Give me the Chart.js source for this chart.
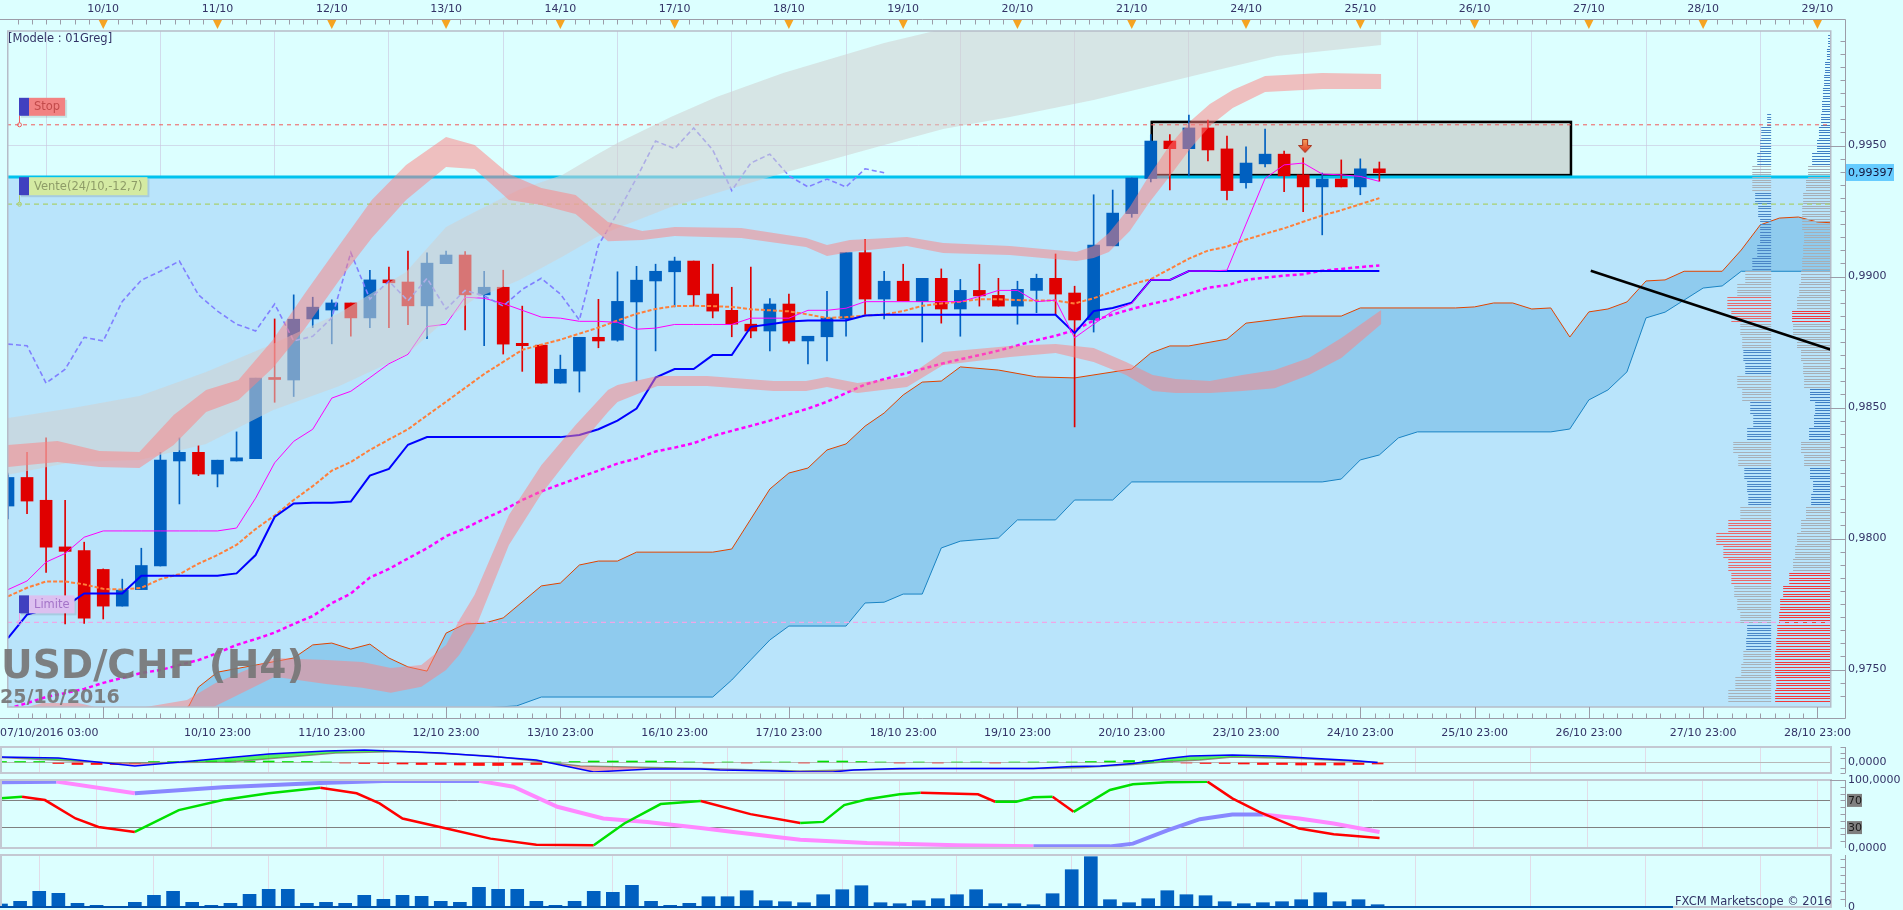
<!DOCTYPE html>
<html lang="fr">
<head>
<meta charset="UTF-8">
<title>USD/CHF (H4)</title>
<script src="https://cdn.jsdelivr.net/npm/chart.js"></script>
<style>
  body { margin: 0; background: #dcffff; }
  #wrap { position: relative; width: 1903px; height: 910px; overflow: hidden; background: #dcffff; }
  #wrap canvas { position: absolute; left: 0; }
</style>
</head>
<body>
<div id="wrap">
  <canvas id="mainChart" width="1903" height="752" style="top:0"></canvas>
  <canvas id="macdChart" width="1903" height="45" style="top:735px"></canvas>
  <canvas id="stoChart" width="1903" height="92" style="top:768px"></canvas>
  <canvas id="volChart" width="1903" height="67" style="top:843px"></canvas>
</div>
<script>
// H4 candles, 07/10/2016 03:00 -> 25/10/2016
const opens = [0.98124, 0.98233, 0.98146, 0.97968, 0.97954, 0.97882, 0.97742, 0.97805, 0.97895, 0.98296,
  0.98329, 0.98246, 0.98296, 0.98305, 0.98613, 0.98605, 0.98838, 0.98872, 0.98899, 0.98842,
  0.98987, 0.98979, 0.98888, 0.99049, 0.99082, 0.9893, 0.98959, 0.98745, 0.98738, 0.98593,
  0.98639, 0.98768, 0.98757, 0.98903, 0.98983, 0.99018, 0.99059, 0.98933, 0.98871, 0.98818,
  0.98792, 0.98895, 0.98754, 0.9877, 0.98838, 0.99091, 0.98914, 0.98982, 0.98904, 0.98993,
  0.98876, 0.98947, 0.98928, 0.98887, 0.98947, 0.98993, 0.98937, 0.98834, 0.99117, 0.9924,
  0.99374, 0.99517, 0.99488, 0.99567, 0.99487, 0.99358, 0.9943, 0.99467, 0.99388, 0.99342,
  0.99372, 0.99342, 0.99411];
const highs = [0.9825, 0.98329, 0.98384, 0.98146, 0.97986, 0.97884, 0.97845, 0.97963, 0.98329, 0.98384,
  0.98355, 0.98299, 0.98407, 0.98612, 0.98838, 0.9893, 0.98921, 0.98911, 0.98899, 0.99024,
  0.99036, 0.99097, 0.9909, 0.99097, 0.99095, 0.9902, 0.99024, 0.98887, 0.98738, 0.987,
  0.98768, 0.98913, 0.99018, 0.99039, 0.99047, 0.99074, 0.99059, 0.99047, 0.98959, 0.99036,
  0.98916, 0.98933, 0.98772, 0.98943, 0.99091, 0.99142, 0.9902, 0.99047, 0.98993, 0.99029,
  0.98989, 0.99047, 0.98993, 0.98982, 0.99009, 0.99086, 0.98963, 0.99312, 0.9933, 0.99376,
  0.99542, 0.99542, 0.99616, 0.99597, 0.99536, 0.99495, 0.99563, 0.99479, 0.99453, 0.99395,
  0.99445, 0.99449, 0.99437];
const lows = [0.98075, 0.98095, 0.97871, 0.97674, 0.97676, 0.97693, 0.97742, 0.97805, 0.97895, 0.98132,
  0.9824, 0.98197, 0.98296, 0.98305, 0.9852, 0.98542, 0.98805, 0.98743, 0.98772, 0.98805,
  0.98805, 0.98816, 0.98763, 0.99049, 0.98796, 0.98736, 0.98704, 0.98638, 0.98593, 0.98593,
  0.98559, 0.98728, 0.98753, 0.98601, 0.98716, 0.98884, 0.98887, 0.98842, 0.9877, 0.98766,
  0.98716, 0.98746, 0.98666, 0.98678, 0.98772, 0.98855, 0.98838, 0.98907, 0.9875, 0.98822,
  0.98772, 0.98887, 0.98887, 0.98818, 0.98862, 0.98855, 0.98426, 0.98788, 0.99117, 0.99226,
  0.99361, 0.9933, 0.99384, 0.99441, 0.99292, 0.99337, 0.99418, 0.99324, 0.99247, 0.99159,
  0.99342, 0.99312, 0.99364];
const closes = [0.98233, 0.98143, 0.97967, 0.97951, 0.97696, 0.97742, 0.97803, 0.97897, 0.98299, 0.98329,
  0.98246, 0.98299, 0.98308, 0.98612, 0.98607, 0.98837, 0.98883, 0.98899, 0.98842, 0.98987,
  0.98976, 0.98888, 0.99051, 0.99082, 0.9893, 0.98959, 0.98742, 0.98736, 0.98593, 0.98646,
  0.98768, 0.98754, 0.98905, 0.98986, 0.9902, 0.99059, 0.9893, 0.98868, 0.98818, 0.98792,
  0.98895, 0.98754, 0.98772, 0.98842, 0.99091, 0.98914, 0.98982, 0.98907, 0.98993, 0.98876,
  0.98947, 0.98926, 0.98887, 0.98951, 0.98993, 0.98933, 0.98834, 0.9912, 0.99242, 0.99376,
  0.99517, 0.99488, 0.99567, 0.99483, 0.99328, 0.99433, 0.99467, 0.99384, 0.99342, 0.99372,
  0.99342, 0.99411, 0.99396];

// indicators on the price chart (one value per candle)
const tenkan = [0.97805, 0.97838, 0.9791, 0.97943, 0.98005, 0.98029, 0.98029, 0.98029, 0.98029, 0.98029,
  0.98029, 0.98029, 0.9804, 0.98154, 0.98289, 0.98371, 0.98417, 0.98536, 0.98562, 0.98614,
  0.98667, 0.98703, 0.98809, 0.98818, 0.98921, 0.98917, 0.98897, 0.98871, 0.98845, 0.98841,
  0.98829, 0.98829, 0.98825, 0.98799, 0.98803, 0.98817, 0.98817, 0.98817, 0.98817, 0.98841,
  0.98841, 0.98841, 0.98871, 0.98871, 0.98879, 0.98904, 0.98904, 0.98904, 0.98904, 0.98904,
  0.98904, 0.98924, 0.98947, 0.98947, 0.98904, 0.9891, 0.98766, 0.98818, 0.98868, 0.98897,
  0.98987, 0.98987, 0.99021, 0.99021, 0.99024, 0.992, 0.99374, 0.99426, 0.99433, 0.99391,
  0.99388, 0.99382, 0.99363];
const kijun = [0.9762, 0.9771, 0.9773, 0.9774, 0.9779, 0.9779, 0.9779, 0.97858, 0.97858, 0.97858,
  0.97858, 0.97858, 0.97867, 0.97937, 0.98082, 0.98134, 0.98137, 0.98137, 0.98141, 0.9824,
  0.98266, 0.98358, 0.98387, 0.98387, 0.98387, 0.98387, 0.98387, 0.98387, 0.98387, 0.98387,
  0.98395, 0.98417, 0.9845, 0.98496, 0.98614, 0.98647, 0.98647, 0.987, 0.987, 0.98808,
  0.98818, 0.98828, 0.98832, 0.98832, 0.98832, 0.98851, 0.98854, 0.98854, 0.98854, 0.98854,
  0.98854, 0.98854, 0.98854, 0.98854, 0.98854, 0.98854, 0.98784, 0.98868, 0.9888, 0.989,
  0.98987, 0.98987, 0.99021, 0.99021, 0.99021, 0.99021, 0.99021, 0.99021, 0.99021, 0.99021,
  0.99021, 0.99021, 0.99021];
const emaFast = [0.97779, 0.97812, 0.97836, 0.97836, 0.97825, 0.97808, 0.97805, 0.97812, 0.97845, 0.97864,
  0.97904, 0.97937, 0.97976, 0.98036, 0.98088, 0.98147, 0.982, 0.98259, 0.98292, 0.98338,
  0.98378, 0.98417, 0.9847, 0.98522, 0.98575, 0.98628, 0.98674, 0.9872, 0.9874, 0.98759,
  0.98782, 0.98805, 0.98832, 0.98858, 0.98876, 0.98887, 0.98888, 0.98887, 0.98884, 0.98875,
  0.98871, 0.98867, 0.98855, 0.98842, 0.98845, 0.98851, 0.98855, 0.98868, 0.98888, 0.98897,
  0.98904, 0.98913, 0.98913, 0.9891, 0.98908, 0.98908, 0.98897, 0.98917, 0.98943, 0.9897,
  0.9899, 0.99029, 0.99068, 0.99099, 0.99114, 0.99141, 0.99163, 0.99184, 0.99209, 0.99233,
  0.99253, 0.99276, 0.99299];
const maSlow = [0.9735, 0.97372, 0.97395, 0.9741, 0.97426, 0.97449, 0.97468, 0.97487, 0.97498, 0.97517,
  0.97536, 0.97563, 0.97594, 0.97616, 0.97641, 0.97674, 0.97704, 0.97753, 0.9779, 0.97851,
  0.97884, 0.97924, 0.97963, 0.98009, 0.98039, 0.98075, 0.98108, 0.98147, 0.9818, 0.98207,
  0.98233, 0.98259, 0.98286, 0.98305, 0.98332, 0.98347, 0.98364, 0.98391, 0.98411, 0.9843,
  0.9845, 0.98474, 0.98496, 0.98522, 0.98555, 0.98588, 0.98608, 0.98628, 0.98647, 0.98667,
  0.98684, 0.987, 0.98717, 0.98737, 0.98757, 0.98774, 0.98795, 0.98832, 0.98855, 0.98876,
  0.98895, 0.98911, 0.98934, 0.98957, 0.98967, 0.98987, 0.98996, 0.99003, 0.99009, 0.99022,
  0.99029, 0.99036, 0.99042];
const chikou = [0.98742, 0.98736, 0.98593, 0.98646, 0.98768, 0.98754, 0.98905, 0.98986, 0.9902, 0.99059,
  0.9893, 0.98868, 0.98818, 0.98792, 0.98895, 0.98754, 0.98772, 0.98842, 0.99091, 0.98914,
  0.98982, 0.98907, 0.98993, 0.98876, 0.98947, 0.98926, 0.98887, 0.98951, 0.98993, 0.98933,
  0.98834, 0.9912, 0.99242, 0.99376, 0.99517, 0.99488, 0.99567, 0.99483, 0.99328, 0.99433,
  0.99467, 0.99384, 0.99342, 0.99372, 0.99342, 0.99411, 0.99396];

// ichimoku cloud, shifted forward
const senkouAX = [8, 9.5, 10, 11, 15, 16, 17, 18, 19, 20, 21, 22, 23, 24, 25, 26, 28, 29, 30, 31,
  32, 33, 37, 38, 40, 41, 42, 43, 44, 45, 46, 47, 48, 49, 50, 52, 54, 56, 59, 60,
  61, 62, 64, 65, 68, 70, 71, 76, 77, 78, 79, 80, 81, 82, 83, 84, 85, 86, 87, 88,
  90, 91, 92, 93, 94, 95, 96];
const senkouA = [0.9728, 0.97361, 0.97433, 0.9749, 0.97544, 0.97594, 0.97601, 0.97578, 0.97597, 0.97544,
  0.9751, 0.97494, 0.97639, 0.97674, 0.97677, 0.97697, 0.97819, 0.9783, 0.97899, 0.97914,
  0.97914, 0.97948, 0.97948, 0.9796, 0.98189, 0.9825, 0.98269, 0.98338, 0.98361, 0.98429,
  0.98479, 0.98548, 0.98597, 0.98601, 0.98655, 0.98643, 0.98617, 0.98613, 0.98647, 0.98708,
  0.98735, 0.98735, 0.98761, 0.98822, 0.98849, 0.98849, 0.9888, 0.9888, 0.98884, 0.98899,
  0.98899, 0.98876, 0.9888, 0.98769, 0.98865, 0.98876, 0.98903, 0.98983, 0.98987, 0.9902,
  0.9902, 0.99101, 0.99197, 0.99223, 0.99227, 0.99208, 0.99204];
const senkouBX = [0, 26.7, 28, 37, 38, 39, 40, 41, 44, 45, 46, 47, 48, 49, 50, 52, 53, 55, 56, 58,
  59, 69, 70, 71, 72, 73, 74, 81, 82, 83, 84, 85, 86, 87, 89, 90, 91, 96];
const senkouB = [0.9725, 0.97361, 0.97395, 0.97395, 0.9746, 0.97537, 0.97613, 0.97666, 0.97666, 0.97754,
  0.97757, 0.97788, 0.97788, 0.97964, 0.9799, 0.98002, 0.98071, 0.98071, 0.98147, 0.98147,
  0.98216, 0.98216, 0.98227, 0.983, 0.98319, 0.98384, 0.98407, 0.98407, 0.98418, 0.98529,
  0.98567, 0.98636, 0.98842, 0.98864, 0.98956, 0.98964, 0.9902, 0.9902];

// wide translucent envelopes (upper / lower edge of each band)
const upBandX = [0, 2.6, 4.8, 6.9, 8.7, 10.4, 12.1, 13.9, 15.6, 17.4, 19.1, 20.9, 23.0, 24.5, 26.3, 28.0, 29.8, 31.5, 33.3, 35.0,
  38.5, 41.9, 43.0, 44.2, 47.2, 49.1, 52.6, 56.1, 57.0, 57.8, 58.9, 59.9, 61.0, 62.1, 63.1, 64.3, 66.0, 69.0, 72.1];
const upBandTop = [0.98357, 0.98372, 0.98334, 0.9833, 0.98471, 0.98567, 0.98605, 0.98758, 0.98937, 0.9912,
  0.99292, 0.99426, 0.99532, 0.99502, 0.99391, 0.99338, 0.99311, 0.99208, 0.99174, 0.99189,
  0.99185, 0.99147, 0.9912, 0.99139, 0.99151, 0.99128, 0.99116, 0.99094, 0.99116, 0.99166,
  0.99265, 0.99384, 0.99502, 0.99594, 0.99658, 0.99712, 0.99765, 0.99777, 0.99773];
const upBandBot = [0.98273, 0.98292, 0.98273, 0.98269, 0.98357, 0.98483, 0.98529, 0.98651, 0.98803, 0.98987,
  0.99147, 0.99292, 0.99418, 0.9941, 0.99292, 0.99273, 0.99239, 0.99135, 0.99139, 0.99155,
  0.99147, 0.99113, 0.99078, 0.99094, 0.99116, 0.9909, 0.99082, 0.99059, 0.99071, 0.99094,
  0.99174, 0.99281, 0.99384, 0.9949, 0.99574, 0.99643, 0.99704, 0.99716, 0.99716];
const loBandX = [0, 1.8, 3.7, 5.7, 9.4, 10.9, 14.0, 16.7, 18.6, 20.1, 21.7, 23.0, 23.7, 24.5, 26.3, 28.0, 29.8, 31.5, 32.0, 34.1,
  36.7, 40.2, 41.9, 43.0, 44.6, 47.2, 49.1, 52.6, 55.0, 57.0, 58.7, 60.1, 61.3, 63.1, 64.8, 66.5, 68.3, 70.0, 72.1];
const loBandTop = [0.97338, 0.97372, 0.97372, 0.97338, 0.97384, 0.97449, 0.97544, 0.97536, 0.97529, 0.97506,
  0.97517, 0.97594, 0.97689, 0.97785, 0.9809, 0.9828, 0.98433, 0.98567, 0.98586, 0.9862,
  0.9862, 0.98601, 0.98601, 0.98616, 0.98594, 0.98616, 0.98712, 0.98735, 0.98742, 0.98727,
  0.98674, 0.98624, 0.98609, 0.98601, 0.98624, 0.98643, 0.98689, 0.98765, 0.98872];
const loBandBot = [0.97288, 0.97323, 0.97323, 0.97277, 0.97269, 0.97361, 0.97472, 0.97445, 0.9743, 0.97411,
  0.97434, 0.97498, 0.97556, 0.97651, 0.97975, 0.9817, 0.98338, 0.98483, 0.98521, 0.98582,
  0.98582, 0.98563, 0.98563, 0.98578, 0.98555, 0.98578, 0.98662, 0.98693, 0.98708, 0.98674,
  0.98624, 0.98563, 0.98555, 0.98555, 0.98563, 0.98574, 0.98624, 0.98689, 0.98819];
const greyX = [0, 3.4, 6.9, 10.4, 13.9, 17.4, 20.9, 23.0, 24.5, 26.8, 29.1, 30.9, 32.0, 34.8, 37.2, 40.7, 46.0, 49.1,
  52.6, 57.0, 63.5, 66.6, 72.1];
const greyTop = [0.9846, 0.98498, 0.98544, 0.98636, 0.98742, 0.98861, 0.99017, 0.99189, 0.99246, 0.9933,
  0.99387, 0.99465, 0.9951, 0.99609, 0.99685, 0.99777, 0.99891, 0.99945, 0.9999, 1.0003, 1.0008, 1.001, 1.0012];
const greyBot = [0.98243, 0.98292, 0.983, 0.98361, 0.9849, 0.98582, 0.987, 0.98835, 0.98915, 0.98985,
  0.99075, 0.99151, 0.99185, 0.99265, 0.99319, 0.99395, 0.99502, 0.99563, 0.99609, 0.99674, 0.99788, 0.99842, 0.99884];

// order levels and drawings
const stopLevel = 0.99579;
const entryLevel = 0.99276;
const limitLevel = 0.9768;
const priceLine = 0.9938;
const lastQuote = 0.99397;
const boxX = [60.05, 82.06];
const boxY = [0.9959, 0.99387];
const trendX = [83.1, 95.7];
const trendY = [0.99022, 0.98721];
const signalX = [68.1];
const signalY = [0.99498];

// volume profiles (length in candle widths per price level; b/g/r = side)
const profileLevels = [0.9990, 0.9985, 0.9980, 0.9975, 0.9970, 0.9965, 0.9960, 0.9955, 0.9950, 0.9945,
  0.9940, 0.9935, 0.9930, 0.9925, 0.9920, 0.9915, 0.9910, 0.9905, 0.9900, 0.9895,
  0.9890, 0.9885, 0.9880, 0.9875, 0.9870, 0.9865, 0.9860, 0.9855, 0.9850, 0.9845,
  0.9840, 0.9835, 0.9830, 0.9825, 0.9820, 0.9815, 0.9810, 0.9805, 0.9800, 0.9795,
  0.9790, 0.9785, 0.9780, 0.9775, 0.9770, 0.9765, 0.9760, 0.9755, 0.9750, 0.9745, 0.9740];
const profile1 = [0, 0, 0, 0, 0, 0, 0.21, 0.52, 0.58, 0.73,
  0.99, 0.99, 0.84, 0.68, 0.58, 0.58, 0.73, 0.99, 1.36, 1.78,
  2.30, 2.09, 1.62, 1.52, 1.46, 1.36, 1.78, 1.52, 1.10, 0.94,
  1.26, 1.99, 1.73, 1.41, 1.26, 1.20, 1.62, 2.25, 2.88, 2.51,
  2.25, 2.09, 1.94, 1.78, 1.62, 1.26, 1.31, 1.46, 1.57, 1.88, 2.25];
const profile1Side = '------bbbbggbbbbbbggrrggbbggbbbggbbbgrrrrrgggbbgggg';
const profile2 = [0.10, 0.16, 0.26, 0.31, 0.37, 0.42, 0.47, 0.58, 0.68, 0.94,
  1.15, 1.26, 1.41, 1.46, 1.46, 1.36, 1.41, 1.46, 1.52, 1.62,
  1.73, 1.99, 1.94, 1.73, 1.52, 1.41, 1.36, 1.05, 0.78, 0.84,
  1.10, 1.52, 1.36, 1.05, 0.89, 0.99, 1.26, 1.52, 1.73, 1.83,
  1.94, 2.14, 2.46, 2.62, 2.67, 2.77, 2.82, 2.88, 2.88, 2.82, 2.88];
const profile2Side = 'bbbbbbbbbbgggggggggggrgggggbbbbggbbbgggggrrrrrrrrrr';

// MACD panel
const macdX = [0, 3, 7, 10, 14, 17, 19, 23, 26, 28, 31, 34, 36.6, 37.6, 40.6, 41.6, 43.5, 44.6, 47, 51,
  54, 56, 57.5, 59.2, 61, 62.2, 64.4, 66.5, 68.8, 70.7, 72];
const macdLine = [0.0011, 0.0009, -0.0007, 0.0003, 0.0017, 0.0023, 0.0025, 0.0019, 0.0011, 0.0005,
  -0.0019, -0.0013, -0.0013, -0.0015, -0.0017, -0.0019, -0.0019, -0.0015, -0.0012, -0.0012,
  -0.0012, -0.0008, -0.0007, -0.0002, 0.0008, 0.0013, 0.0015, 0.0013, 0.0008, 0.0004, 0.0];
const macdSigX = [0, 6, 12, 17.5, 21, 25.6, 30.3, 36.6, 41.8, 48.7, 54.5, 56.6, 59.2, 61.1, 62.7, 64.4, 67.9, 72];
const macdSignal = [0.0010, -0.0001, 0.0001, 0.0019, 0.0022, 0.0013, -0.0007, -0.0012, -0.0017, -0.0012,
  -0.0012, -0.0010, -0.0004, 0.0002, 0.0005, 0.0011, 0.0008, 0.0];
const macdHist = [0.0002, 0.0002, 0.0002, -0.0002, -0.0004, -0.0004, -0.0004, -0.0002, 0.0002, 0.0002,
  0.0002, 0.0003, 0.0003, 0.0003, 0.0003, 0.0002, 0.0002, 0.0001, -0.0001, -0.0002,
  -0.0002, -0.0003, -0.0004, -0.0004, -0.0005, -0.0006, -0.0006, -0.0005, -0.0004, 0.0001,
  0.0002, 0.0003, 0.0003, 0.0003, 0.0003, 0.0002, 0.0001, -0.0001, 0.0001, -0.0001,
  0.0001, 0.0001, -0.0001, 0.0003, 0.0003, 0.0002, 0.0001, -0.0001, 0.0001, -0.0001,
  0.0001, 0.0001, -0.0001, 0.0001, 0.0001, 0.0001, 0.0001, 0.0002, 0.0003, 0.0004,
  0.0004, 0.0003, -0.0001, -0.0002, -0.0002, -0.0003, -0.0004, -0.0004, -0.0005, -0.0005,
  -0.0005, -0.0004, -0.0003];

// oscillator panel (0-100)
const slowX = [0, 2.9, 7, 11.6, 16.3, 20, 25, 26.8, 29.1, 31.5, 33.8, 36.6, 38.3, 41.8, 45.3, 50, 54, 58, 59.2, 61,
  62.7, 64.4, 66, 67.9, 69.7, 72.1];
const slowVal = [96.7, 97.6, 80.4, 89.3, 95.3, 98.7, 98.7, 90.2, 60.6, 43.4, 38.4, 29.5, 23.6, 12.3, 7.3, 3.9, 2.4, 2.4, 6.4, 26,
  42.4, 49.3, 49.3, 43.4, 36, 23.6];
const fastX = [0, 1.1, 2.3, 3.9, 5.1, 7, 9.3, 11.6, 14, 16.7, 18.6, 19.8, 21, 23.3, 25.6, 28, 31, 32.6, 34.5, 36.6,
  39.2, 41.8, 43, 44.1, 45.3, 47, 48.1, 51.1, 52, 53.1, 54, 55, 56.1, 58, 59.2, 61, 63.1, 64.4, 65.8, 67.9,
  69.7, 72.1];
const fastVal = [73, 75.4, 70.5, 43.4, 31, 23.6, 55.7, 70.5, 80.4, 88.7, 80.4, 65.6, 43.4, 28.6, 13.8, 4.9, 3.9, 36, 64.6, 69,
  49.8, 36.9, 38.4, 63.1, 71.6, 79, 81.3, 79, 68, 68, 74.5, 75.4, 53.2, 85.3, 93.8, 96.7, 97.6, 73, 53.2, 28.6,
  20.1, 14.7];

// tick volume
const volumes = [750, 1425, 3925, 3425, 925, 425, 175, 1175, 2925, 3925,
  1175, 425, 925, 3175, 4425, 4425, 925, 1175, 925, 2925,
  1925, 2925, 2675, 1425, 1175, 4925, 4425, 4425, 1425, 425,
  1425, 3925, 3675, 5425, 1425, 425, 925, 2575, 2575, 4075,
  1575, 1325, 1075, 3075, 4325, 5325, 1075, 825, 1575, 2075,
  3075, 4325, 825, 825, 575, 3325, 9325, 12575, 1825, 1075,
  2075, 4075, 3075, 2825, 1325, 825, 1075, 1325, 1825, 3575,
  1325, 1825, 575];

// time axis
const dayTicks = [5, 11, 17, 23, 29, 35, 41, 47, 53, 59, 65, 71, 77, 83, 89, 95];
const topLabels = ['10/10', '11/10', '12/10', '13/10', '14/10', '17/10', '18/10', '19/10', '20/10', '21/10',
  '24/10', '25/10', '26/10', '27/10', '28/10', '29/10'];
const bottomTicks = [0, 11, 17, 23, 29, 35, 41, 47, 53, 59, 65, 71, 77, 83, 89, 95];
const bottomLabels = ['07/10/2016 03:00', '10/10 23:00', '11/10 23:00', '12/10 23:00', '13/10 23:00', '16/10 23:00',
  '17/10 23:00', '18/10 23:00', '19/10 23:00', '20/10 23:00', '23/10 23:00', '24/10 23:00', '25/10 23:00',
  '26/10 23:00', '27/10 23:00', '28/10 23:00'];
const priceTicks = [0.975, 0.980, 0.985, 0.990, 0.995];

const FONT = 'DejaVu Sans';
const AXIS_TXT = '#333366';
const X_MIN = -0.052, X_MAX = 95.66;
const Y_MIN = 0.97357, Y_MAX = 0.99937;

const idx = closes.map((_, i) => i);
const pts = (xs, ys) => ys.map((v, k) => ({ x: xs[k], y: v }));
const flat = v => [{ x: X_MIN, y: v }, { x: X_MAX, y: v }];
const fmt4 = v => v.toFixed(4).replace('.', ',');

function line(data, color, width, extra) {
  return Object.assign({ type: 'line', data: data, borderColor: color, borderWidth: width,
    pointRadius: 0, fill: false, tension: 0 }, extra || {});
}
function band(xs, top, bottom, color, order) {
  return [
    line(pts(xs, top), 'rgba(0,0,0,0)', 0, { fill: '+1', backgroundColor: color, order: order }),
    line(pts(xs, bottom), 'rgba(0,0,0,0)', 0, { order: order - 1 })
  ];
}
function xScale(gridColor) {
  return {
    type: 'linear', min: X_MIN, max: X_MAX, offset: false, z: 1,
    afterBuildTicks: s => { s.ticks = dayTicks.map(v => ({ value: v })); },
    afterFit: s => { s.height = 0; s.paddingLeft = 0; s.paddingRight = 0; },
    ticks: { display: false },
    grid: { color: gridColor, drawTicks: false },
    border: { display: false }
  };
}
function yFit(s) { s.width = 73; s.paddingTop = 0; s.paddingBottom = 0; }

// signal arrow used as point style
const arrowImg = document.createElement('canvas');
arrowImg.width = 14; arrowImg.height = 14;
(function () {
  const c = arrowImg.getContext('2d');
  const g = c.createLinearGradient(0, 0, 0, 14);
  g.addColorStop(0, '#f8a860'); g.addColorStop(1, '#d82a18');
  c.fillStyle = g; c.strokeStyle = '#a83018'; c.lineWidth = 1;
  c.beginPath();
  c.moveTo(4.5, 0.5); c.lineTo(9.5, 0.5); c.lineTo(9.5, 6.5); c.lineTo(13.5, 6.5);
  c.lineTo(7, 13.5); c.lineTo(0.5, 6.5); c.lineTo(4.5, 6.5); c.closePath();
  c.fill(); c.stroke();
})();

const candleColor = idx.map(i => closes[i] >= opens[i] ? '#0060c0' : '#e00000');

function drawProfile(chart, vols, sides, rightIdx, palette) {
  const { ctx, scales: { x, y } } = chart;
  const xr = x.getPixelForValue(rightIdx);
  const unit = x.getPixelForValue(1) - x.getPixelForValue(0);
  ctx.lineWidth = 1;
  profileLevels.forEach((lv, k) => {
    if (!vols[k]) return;
    ctx.strokeStyle = palette[sides[k]];
    ctx.beginPath();
    for (let s = -2; s <= 2; s++) {
      const py = Math.round(y.getPixelForValue(lv + s * 0.0001)) + 0.5;
      ctx.moveTo(xr - vols[k] * unit, py); ctx.lineTo(xr, py);
    }
    ctx.stroke();
  });
}

function tag(ctx, yLine, text, bg, fg, lineColor) {
  ctx.font = '11.5px ' + FONT;
  const w = ctx.measureText(text).width + 10;
  const top = yLine - 27, h = 18;
  ctx.fillStyle = 'rgba(0,0,0,0.10)'; ctx.fillRect(21, top + 2, 10 + w, h);
  ctx.fillStyle = '#4040c0'; ctx.fillRect(19, top, 10, h);
  ctx.fillStyle = bg; ctx.fillRect(29, top, w, h);
  ctx.fillStyle = fg; ctx.textAlign = 'left'; ctx.textBaseline = 'middle';
  ctx.fillText(text, 34, top + h / 2 + 0.5);
  ctx.strokeStyle = lineColor; ctx.lineWidth = 1;
  ctx.beginPath(); ctx.moveTo(19.5, top + h); ctx.lineTo(19.5, yLine - 2); ctx.stroke();
  ctx.beginPath(); ctx.arc(19.5, yLine, 2, 0, Math.PI * 2); ctx.stroke();
}

const mainDeco = {
  id: 'mainDeco',
  beforeDraw(chart) {
    const { ctx, width, height } = chart;
    ctx.save(); ctx.fillStyle = '#dcffff'; ctx.fillRect(0, 0, width, height); ctx.restore();
  },
  beforeDatasetsDraw(chart) {
    const { ctx, scales: { x, y } } = chart;
    const x0 = x.getPixelForValue(boxX[0]), x1 = x.getPixelForValue(boxX[1]);
    const y0 = y.getPixelForValue(boxY[0]), y1 = y.getPixelForValue(boxY[1]);
    ctx.save();
    ctx.fillStyle = '#cddcda'; ctx.fillRect(x0, y0, x1 - x0, y1 - y0);
    ctx.lineWidth = 2.5; ctx.strokeStyle = '#000'; ctx.strokeRect(x0, y0, x1 - x0, y1 - y0);
    ctx.restore();
  },
  afterDatasetDraw(chart, args) {
    if (chart.data.datasets[args.index].label !== 'senkouB') return;
    const { ctx, chartArea: a } = chart;
    ctx.save();
    ctx.beginPath(); ctx.rect(a.left, a.top, a.right - a.left, a.bottom - a.top); ctx.clip();
    drawProfile(chart, profile1, profile1Side, 92.57, { b: '#4a86c6', g: '#a8b0b8', r: '#e86a6a' });
    drawProfile(chart, profile2, profile2Side, X_MAX, { b: '#3f7fc4', g: '#a6aeb6', r: '#f23a3a' });
    ctx.restore();
  },
  afterDraw(chart) {
    const { ctx, chartArea: a, scales: { x, y } } = chart;
    const px = v => Math.round(x.getPixelForValue(v)) + 0.5;
    ctx.save();
    // plot frame
    ctx.strokeStyle = '#b6bcc8'; ctx.lineWidth = 1.5;
    ctx.strokeRect(a.left + 0.75, a.top, a.right - a.left, a.bottom - a.top);
    // axis lines and ticks
    ctx.strokeStyle = '#9c9ca8'; ctx.lineWidth = 1;
    ctx.beginPath();
    ctx.moveTo(0, 19.5); ctx.lineTo(1845.5, 19.5);
    ctx.moveTo(1845.5, 19.5); ctx.lineTo(1845.5, 718.5);
    ctx.moveTo(0, 718.5); ctx.lineTo(1845.5, 718.5);
    for (let t = 0.5; t <= X_MAX; t += 0.75) {
      const p = px(t);
      ctx.moveTo(p, 19.5); ctx.lineTo(p, 24.5);
      ctx.moveTo(p, 718.5); ctx.lineTo(p, 713.5);
    }
    dayTicks.forEach(d => { const p = px(d); ctx.moveTo(p, 718.5); ctx.lineTo(p, a.bottom); });
    for (let k = 0; k <= 52; k++) {
      const py = Math.round(y.getPixelForValue(0.974 + k * 0.0005)) + 0.5;
      if (py < a.top || py > a.bottom) continue;
      ctx.moveTo((k - 2) % 10 === 0 ? a.right : 1840.5, py); ctx.lineTo(1845.5, py);
    }
    ctx.stroke();
    // day markers
    ctx.fillStyle = '#f5a422';
    dayTicks.forEach(d => {
      const p = x.getPixelForValue(d);
      ctx.beginPath(); ctx.moveTo(p - 4.5, 20); ctx.lineTo(p + 4.5, 20); ctx.lineTo(p, 29); ctx.closePath(); ctx.fill();
    });
    // time labels
    ctx.font = '11px ' + FONT; ctx.fillStyle = AXIS_TXT; ctx.textBaseline = 'middle'; ctx.textAlign = 'center';
    dayTicks.forEach((d, k) => ctx.fillText(topLabels[k], x.getPixelForValue(d), 9));
    bottomTicks.forEach((d, k) => {
      ctx.textAlign = k === 0 ? 'left' : 'center';
      ctx.fillText(bottomLabels[k], k === 0 ? 0 : x.getPixelForValue(d), 733);
    });
    // last quote
    const yq = y.getPixelForValue(lastQuote);
    ctx.fillStyle = '#66ccff'; ctx.fillRect(1846, yq - 8.5, 48, 17);
    ctx.fillStyle = '#14143c'; ctx.textAlign = 'left';
    ctx.fillText(lastQuote.toFixed(5).replace('.', ','), 1848, yq + 0.5);
    // order tags
    tag(ctx, y.getPixelForValue(stopLevel), 'Stop', '#f28282', '#c24a4a', '#f06060');
    tag(ctx, y.getPixelForValue(entryLevel), 'Vente(24/10,-12,7)', '#d4eaa2', '#8e9c68', '#b0d070');
    tag(ctx, y.getPixelForValue(limitLevel), 'Limite', '#dcc0f0', '#a474c8', '#f0a0e8');
    // captions
    ctx.fillStyle = AXIS_TXT; ctx.font = '11.5px ' + FONT; ctx.textBaseline = 'middle';
    ctx.fillText('[Modele : 01Greg]', 8, 39);
    ctx.fillStyle = 'rgba(118,118,118,0.92)'; ctx.textBaseline = 'alphabetic';
    ctx.font = 'bold 39px ' + FONT; ctx.fillText('USD/CHF (H4)', 1, 678);
    ctx.font = 'bold 19px ' + FONT; ctx.fillText('25/10/2016', 0, 703);
    ctx.restore();
  }
};

const mainDatasets = [
  line(flat(priceLine), '#00c2ee', 3, { fill: 'start', backgroundColor: '#b9e4fb', order: 100 }),
  line(pts(senkouAX, senkouA), '#e04400', 1, { fill: { target: 2 }, backgroundColor: '#8fcbee', order: 91 }),
  line(pts(senkouBX, senkouB), '#1a84c4', 1, { order: 90, label: 'senkouB' }),
  line(flat(stopLevel), '#f05a5a', 1, { borderDash: [4, 4], order: 80 }),
  line(flat(entryLevel), '#a8d070', 1.2, { borderDash: [5, 4], order: 80 }),
  line(flat(limitLevel), '#f0a6e6', 1.2, { borderDash: [5, 4], order: 80 }),
  { type: 'bar', data: idx.map(i => ({ x: i, y: [lows[i], highs[i]] })), backgroundColor: candleColor,
    barThickness: 1, grouped: false, order: 70 },
  { type: 'bar', data: idx.map(i => ({ x: i, y: [opens[i], closes[i]] })), backgroundColor: candleColor,
    barThickness: 12, grouped: false, minBarLength: 2, order: 69 },
  line(pts(idx, maSlow), '#ff00ff', 2.5, { borderDash: [4, 3], order: 60 }),
  line(pts(idx, emaFast), '#ff7f3a', 2, { borderDash: [4, 2], order: 59 }),
  line(pts(idx, kijun), '#0000ff', 2, { order: 58 }),
  line(pts(idx, tenkan), '#ff00ff', 1, { order: 57 }),
  line(pts(idx.slice(0, chikou.length), chikou), '#8080ff', 1.6, { borderDash: [5, 3], order: 56 }),
  ...band(greyX, greyTop, greyBot, 'rgba(208,208,208,0.56)', 50),
  ...band(loBandX, loBandTop, loBandBot, 'rgba(255,128,128,0.5)', 48),
  ...band(upBandX, upBandTop, upBandBot, 'rgba(255,128,128,0.5)', 46),
  line(pts(trendX, trendY), '#000000', 2.5, { order: 10 }),
  line(pts(signalX, signalY), '#d02a18', 0, { showLine: false, pointRadius: 7, pointStyle: arrowImg, order: 5 })
];

new Chart(document.getElementById('mainChart'), {
  type: 'line',
  data: { datasets: mainDatasets },
  options: {
    responsive: false, animation: false, devicePixelRatio: 1, events: [],
    layout: { padding: { top: 31, bottom: 45, left: 0, right: 0 } },
    plugins: { legend: { display: false }, tooltip: { enabled: false } },
    scales: {
      x: xScale('rgba(200,190,218,0.55)'),
      y: {
        position: 'right', min: Y_MIN, max: Y_MAX, z: 1,
        afterBuildTicks: s => { s.ticks = priceTicks.map(v => ({ value: v })); },
        afterFit: yFit,
        ticks: { callback: v => fmt4(v), color: AXIS_TXT, font: { family: FONT, size: 11 }, padding: 18, autoSkip: false },
        grid: { color: 'rgba(200,196,222,0.6)', drawTicks: false },
        border: { display: false }
      }
    }
  },
  plugins: [mainDeco]
});

// lower panels
function panelFrame(tickValues, extra) {
  return {
    id: 'panelFrame',
    afterDraw(chart) {
      const { ctx, chartArea: a, scales: { y } } = chart;
      ctx.save();
      ctx.strokeStyle = '#c4c8d2'; ctx.lineWidth = 2;
      ctx.strokeRect(a.left + 1, a.top, a.right - a.left, a.bottom - a.top);
      ctx.strokeStyle = '#9c9ca8'; ctx.lineWidth = 1;
      ctx.beginPath(); ctx.moveTo(1845.5, a.top); ctx.lineTo(1845.5, a.bottom);
      tickValues.forEach(v => {
        const py = Math.round(y.getPixelForValue(v)) + 0.5;
        ctx.moveTo(1840.5, py); ctx.lineTo(1845.5, py);
      });
      ctx.stroke();
      if (extra) extra(chart);
      ctx.restore();
    }
  };
}
function panelOptions(padTop, padBottom, yOpts) {
  return {
    responsive: false, animation: false, devicePixelRatio: 1, events: [],
    layout: { padding: { top: padTop, bottom: padBottom, left: 0, right: 0 } },
    plugins: { legend: { display: false }, tooltip: { enabled: false } },
    scales: {
      x: xScale('#e2dce8'),
      y: Object.assign({
        position: 'right', afterFit: yFit,
        border: { display: false }
      }, yOpts)
    }
  };
}
const tickFont = { family: FONT, size: 11 };

new Chart(document.getElementById('macdChart'), {
  type: 'line',
  data: {
    datasets: [
      { type: 'bar', data: idx.map(i => ({ x: i, y: macdHist[i] })), grouped: false, barThickness: 11,
        backgroundColor: macdHist.map(v => v >= 0 ? '#00e000' : '#ff1010'), order: 10 },
      line(pts(macdSigX, macdSignal), '#8c8c8c', 1.5, { order: 5 }),
      line(pts(macdX, macdLine), '#0000ff', 1.5, {
        fill: { target: 1, above: 'rgba(0,235,0,0.6)', below: 'rgba(255,80,80,0.5)' }, order: 4 })
    ]
  },
  options: panelOptions(12, 7, {
    min: -0.0021, max: 0.0031,
    afterBuildTicks: s => { s.ticks = [{ value: 0 }]; },
    ticks: { callback: () => '0,0000', color: AXIS_TXT, font: tickFont, padding: 18 },
    grid: { color: '#b8b8b8', drawTicks: false }
  }),
  plugins: [panelFrame([-0.002, -0.001, 0.001, 0.002, 0.003])]
});

const upDown = (up, down) => c => c.p1.parsed.y >= c.p0.parsed.y ? up : down;
new Chart(document.getElementById('stoChart'), {
  type: 'line',
  data: {
    datasets: [
      line(pts(slowX, slowVal), '#8888ff', 4, { segment: { borderColor: upDown('#8888ff', '#ff88ff') }, order: 5 }),
      line(pts(fastX, fastVal), '#00e000', 2.5, { segment: { borderColor: upDown('#00e000', '#ff0000') }, order: 4 })
    ]
  },
  options: panelOptions(12, 12, {
    min: 0, max: 100,
    afterBuildTicks: s => { s.ticks = [0, 30, 70, 100].map(v => ({ value: v })); },
    ticks: { callback: v => v === 100 ? '100,0000' : (v === 0 ? '0,0000' : ''), color: AXIS_TXT, font: tickFont, padding: 18 },
    grid: { color: c => (c.tick.value === 30 || c.tick.value === 70) ? '#808080' : 'rgba(0,0,0,0)', drawTicks: false }
  }),
  plugins: [panelFrame([10, 20, 30, 40, 50, 60, 70, 80, 90], chart => {
    const { ctx, chartArea: a, scales: { y } } = chart;
    ctx.strokeStyle = '#9c9ca8'; ctx.beginPath();
    ctx.moveTo(a.right, Math.round(y.getPixelForValue(100)) + 0.5); ctx.lineTo(1845.5, Math.round(y.getPixelForValue(100)) + 0.5);
    ctx.stroke();
    ctx.font = '11px ' + FONT; ctx.textBaseline = 'middle'; ctx.textAlign = 'left';
    [70, 30].forEach(v => {
      const py = y.getPixelForValue(v);
      ctx.fillStyle = '#7f7f7f'; ctx.fillRect(1847, py - 6.5, 15, 13);
      ctx.fillStyle = '#1a1a1a'; ctx.fillText(String(v), 1848, py + 0.5);
    });
  })]
});

new Chart(document.getElementById('volChart'), {
  type: 'line',
  data: {
    datasets: [
      { type: 'bar', data: idx.map(i => ({ x: i, y: volumes[i] })), backgroundColor: '#0060c0',
        barThickness: 13, grouped: false }
    ]
  },
  options: panelOptions(12, 3, {
    min: 0, max: 13000,
    afterBuildTicks: s => { s.ticks = [{ value: 0 }]; },
    ticks: { callback: () => '0', color: AXIS_TXT, font: tickFont, padding: 18 },
    grid: { color: 'rgba(0,0,0,0)', drawTicks: false }
  }),
  plugins: [panelFrame([2000, 4000, 6000, 8000, 10000, 12000], chart => {
    const { ctx, chartArea: a } = chart;
    ctx.strokeStyle = '#0050a8'; ctx.lineWidth = 2;
    ctx.beginPath(); ctx.moveTo(0, a.bottom); ctx.lineTo(1673, a.bottom); ctx.stroke();
    ctx.fillStyle = AXIS_TXT; ctx.font = '11.5px ' + FONT; ctx.textBaseline = 'middle'; ctx.textAlign = 'left';
    ctx.fillText('FXCM Marketscope \u00a9 2016', 1675, a.bottom - 5);
  })]
});
</script>
</body>
</html>
